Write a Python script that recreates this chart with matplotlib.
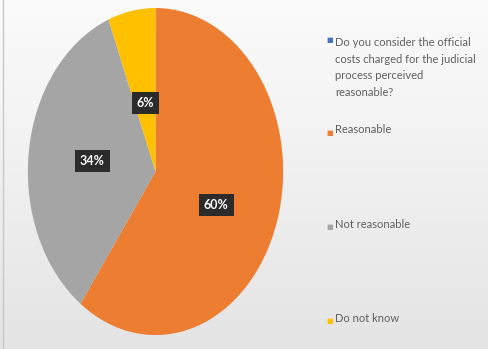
import matplotlib
matplotlib.use("Agg")
import numpy as np
import matplotlib.pyplot as plt

# data
categories = ["Reasonable", "Not reasonable", "Do not know"]
shares = [60, 34, 6]
colors = ["#ED7D31", "#A5A5A5", "#FFC000"]
series_title = "Do you consider the official\ncosts charged for the judicial\nprocess perceived\nreasonable?"

fig = plt.figure(figsize=(4.89, 3.49), dpi=100)

# soft vertical gradient background like the screenshot
bg = fig.add_axes([0, 0, 1, 1], zorder=-10)
grad = np.linspace(0, 1, 256).reshape(-1, 1)
bg.imshow(grad, aspect="auto", cmap=matplotlib.colors.LinearSegmentedColormap.from_list(
    "bg", ["#fbfbfb", "#f0f0f0", "#e4e4e4"]), extent=[0, 1, 0, 1])
bg.axis("off")

# pie is drawn stretched vertically like the original (aspect auto)
ax = fig.add_axes([0.057, 0.04, 0.522, 0.937])
wedges, texts, autotexts = ax.pie(
    shares, colors=colors, startangle=90, counterclock=False,
    autopct="%d%%", pctdistance=0.5,
    textprops=dict(color="white", fontsize=9, fontweight="bold", family="Lato"),
)
# the small slice label sits a little closer to the centre,
# the big one a little lower
x, y = autotexts[2].get_position()
autotexts[2].set_position((x * 0.85, y * 0.85))
x, y = autotexts[0].get_position()
autotexts[0].set_position((x, y - 0.05))
for t in autotexts:
    t.set_bbox(dict(boxstyle="square,pad=0.4", facecolor="#2b2b2b", edgecolor="none"))
ax.set_aspect("auto")
ax.set_xlim(-1, 1)
ax.set_ylim(-1, 1)

# legend, spaced down the right side
legend_y = [0.885, 0.62, 0.35, 0.08]
legend_labels = [series_title] + categories
legend_colors = ["#4472C4"] + colors
for y, lab, c in zip(legend_y, legend_labels, legend_colors):
    fig.text(0.667, y, "\u25a0", color=c, fontsize=5, va="center", ha="left")
    fig.text(0.685, y + 0.008, lab, color="#5f5f5f", fontsize=8, family="Lato",
             va="top" if "\n" in lab else "center", ha="left", linespacing=1.6)

# thin frame line on the left edge of the screenshot
fig.add_artist(plt.Line2D([0.006, 0.006], [0.0, 1.0], color="#c8c8c8", lw=1))

fig.savefig("out.png", dpi=100)
